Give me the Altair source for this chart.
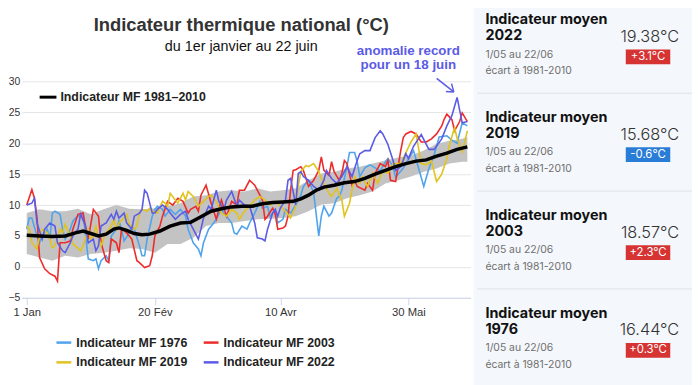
import datetime as dt
import altair as alt
import pandas as pd

# ---------------- data (day index from 1 Jan 2022, temperature °C) ----------------
normal = [(0, 5.1), (5, 5.0), (10, 4.9), (15, 5.0), (19, 5.5), (22, 5.8), (25, 5.4), (28, 5.0),
          (31, 5.3), (34, 6.1), (36, 6.3), (39, 5.9), (42, 5.4), (45, 5.2), (48, 5.3), (52, 5.8),
          (56, 6.6), (60, 7.1), (64, 7.2), (68, 8.1), (72, 9.0), (76, 9.4), (80, 9.7), (84, 9.8),
          (88, 9.8), (92, 10.2), (96, 10.4), (100, 10.5), (104, 10.6), (107, 11.0), (110, 11.6),
          (113, 12.4), (116, 12.9), (120, 13.2), (124, 13.6), (128, 13.8), (132, 14.3), (136, 15.0),
          (140, 15.6), (144, 16.2), (148, 16.7), (152, 17.1), (156, 17.3), (160, 17.9), (164, 18.4),
          (168, 19.0), (172, 19.4)]

band_days = [0, 5, 10, 15, 20, 25, 30, 35, 40, 45, 50, 55, 60, 65, 70, 75, 80, 85, 90, 95, 100,
             105, 110, 115, 120, 125, 130, 135, 140, 145, 150, 155, 160, 165, 170, 172]
band_hi = [8.7, 9.3, 9.0, 9.0, 9.4, 8.5, 9.3, 10.0, 9.4, 9.3, 9.5, 9.8, 10.3, 11.4, 11.6, 12.2,
           12.4, 12.2, 12.7, 12.2, 12.4, 12.7, 14.0, 15.1, 15.4, 15.9, 16.2, 16.7, 17.2, 17.7,
           18.0, 18.8, 19.9, 20.4, 20.7, 21.0]
band_lo = [2.1, 1.5, 1.0, 1.8, 1.5, 2.1, 2.3, 2.6, 3.0, 2.9, 2.3, 3.7, 3.7, 4.7, 6.6, 7.1, 7.1,
           7.4, 7.7, 7.8, 7.9, 8.2, 9.0, 10.1, 10.3, 11.1, 11.6, 12.2, 13.5, 14.0, 14.6, 15.4,
           15.9, 16.7, 17.0, 17.0]

y1976 = [(0, 6.1), (1, 7.9), (2, 7.9), (4, 5.0), (5, 3.9), (6, 5.0), (8, 6.1), (9, 4.5), (10, 8.7),
         (11, 9.0), (13, 8.5), (14, 6.1), (15, 4.5), (17, 6.1), (18, 7.4), (19, 7.9), (20, 8.2),
         (22, 8.5), (23, 5.0), (24, 1.3), (26, 1.0), (27, 1.3), (28, -0.3), (29, 1.0), (31, 1.8),
         (32, 1.0), (33, 5.0), (35, 6.1), (36, 7.4), (37, 6.1), (38, 4.2), (40, 5.5), (41, 6.6),
         (42, 6.1), (44, 3.4), (45, 1.8), (46, 1.8), (47, 4.5), (49, 8.2), (50, 9.3), (51, 9.8),
         (53, 9.3), (54, 8.2), (56, 9.3), (58, 8.5), (60, 9.3), (62, 8.2), (63, 6.1), (65, 3.9),
         (67, 2.9), (68, 1.8), (69, 3.9), (71, 6.1), (73, 7.1), (74, 7.7), (76, 9.3), (77, 8.7),
         (78, 8.2), (80, 7.1), (81, 5.5), (82, 5.3), (84, 6.6), (86, 6.1), (87, 7.1), (89, 8.7),
         (91, 10.6), (92, 9.5), (94, 9.8), (95, 8.2), (97, 9.3), (98, 7.1), (100, 7.7), (101, 9.3),
         (103, 8.7), (105, 10.0), (107, 11.6), (108, 13.0), (110, 14.0), (112, 12.0), (114, 5.0),
         (115, 8.2), (116, 9.8), (118, 8.2), (119, 8.7), (121, 11.1), (122, 11.4), (123, 12.4),
         (125, 16.2), (126, 18.5), (128, 18.5), (129, 17.0), (130, 14.6), (132, 16.0), (134, 16.5),
         (136, 16.0), (138, 15.5), (140, 17.0), (141, 17.5), (143, 16.2), (144, 14.5), (147, 16.0),
         (151, 18.8), (153, 15.9), (155, 13.0), (157, 15.9), (159, 18.1), (161, 21.0), (164, 21.2),
         (166, 20.5), (168, 20.0), (170, 23.3), (172, 22.8)]

y2003 = [(0, 10.0), (2, 12.5), (3, 11.1), (4, 8.0), (5, 1.5), (7, -0.3), (9, -1.1), (11, -1.5),
         (12, -2.3), (13, 3.9), (15, 3.9), (17, 4.2), (18, 6.1), (20, 8.5), (22, 8.7), (23, 6.3),
         (24, 4.5), (26, 9.3), (28, 8.2), (29, 3.9), (31, 1.0), (32, 0.7), (33, 4.5), (35, 3.9),
         (36, 2.3), (37, 6.1), (39, 5.5), (41, 4.5), (43, 1.0), (44, 0.7), (46, -0.1), (48, 0.2),
         (49, 1.8), (50, 5.0), (52, 6.6), (53, 8.2), (55, 10.6), (57, 10.0), (59, 11.1), (61, 10.6),
         (63, 8.7), (64, 9.3), (66, 9.8), (67, 9.0), (68, 11.6), (70, 13.2), (72, 10.3), (74, 7.7),
         (75, 9.3), (76, 10.8), (78, 8.2), (80, 10.6), (82, 10.0), (83, 12.4), (85, 12.4), (87, 14.0),
         (89, 13.2), (90, 12.4), (92, 10.8), (93, 7.7), (94, 8.2), (96, 9.5), (97, 8.5), (98, 6.1),
         (100, 6.3), (101, 6.6), (102, 8.2), (103, 12.4), (104, 15.6), (105, 15.7), (107, 16.2),
         (108, 15.6), (110, 13.0), (112, 14.0), (114, 15.6), (115, 17.8), (116, 15.6), (118, 14.8),
         (119, 17.0), (120, 15.4), (122, 14.0), (123, 15.1), (124, 17.2), (125, 16.7), (127, 13.2),
         (128, 14.0), (129, 13.0), (132, 12.4), (133, 13.5), (135, 12.4), (136, 15.1), (138, 16.7),
         (140, 16.2), (141, 17.2), (142, 14.0), (144, 13.8), (146, 18.8), (147, 20.9), (148, 21.5),
         (150, 21.9), (152, 21.5), (154, 20.2), (156, 20.2), (158, 20.7), (160, 21.5), (162, 22.8),
         (163, 23.9), (164, 24.7), (166, 23.8), (167, 22.0), (169, 23.5), (170, 24.9), (172, 23.5)]

y2019 = [(0, 6.6), (1, 6.1), (2, 3.9), (4, 2.9), (5, 5.0), (6, 6.1), (8, 5.5), (9, 4.5), (10, 3.1),
         (11, 3.4), (13, 6.1), (14, 5.5), (15, 6.9), (17, 5.0), (18, 3.7), (19, 3.4), (21, 2.6),
         (22, 3.4), (24, 6.1), (25, 4.5), (26, 5.0), (27, 6.6), (29, 3.4), (30, 4.5), (31, 5.5),
         (33, 6.6), (34, 7.7), (35, 6.1), (36, 7.1), (38, 7.9), (39, 8.5), (40, 6.9), (42, 6.1),
         (43, 6.6), (44, 8.7), (45, 9.3), (47, 9.0), (48, 9.5), (49, 9.0), (51, 8.7), (53, 10.6),
         (54, 10.3), (55, 9.8), (56, 11.9), (58, 10.8), (59, 10.3), (61, 11.9), (62, 10.8),
         (63, 12.2), (65, 11.4), (67, 9.8), (69, 10.6), (71, 11.4), (72, 11.6), (74, 10.6), (76, 8.7),
         (78, 8.2), (80, 9.3), (82, 8.7), (83, 7.7), (85, 9.0), (87, 9.8), (89, 10.8), (91, 11.4),
         (93, 10.8), (95, 10.0), (97, 10.6), (99, 9.8), (101, 9.0), (103, 7.9), (105, 9.8),
         (106, 13.0), (107, 15.4), (109, 16.4), (110, 16.2), (112, 16.7), (114, 15.4), (115, 14.3),
         (116, 13.5), (118, 11.9), (119, 11.4), (121, 12.7), (123, 10.8), (124, 8.2), (126, 10.3),
         (128, 14.6), (130, 13.5), (131, 14.6), (133, 13.0), (135, 15.1), (137, 13.5), (139, 15.6),
         (141, 15.1), (143, 16.7), (146, 16.7), (150, 20.2), (152, 21.5), (154, 16.7), (156, 16.5),
         (158, 17.1), (160, 13.8), (162, 15.0), (164, 17.5), (165, 19.7), (167, 22.5), (168, 20.8),
         (170, 18.6), (172, 22.0)]

y2022 = [(0, 10.0), (2, 10.3), (3, 11.1), (4, 7.1), (6, 4.5), (7, 6.1), (9, 7.1), (11, 6.6),
         (12, 3.9), (14, 2.6), (15, 2.3), (17, 3.9), (18, 5.0), (20, 6.1), (21, 8.5), (23, 6.6),
         (24, 3.9), (26, 4.5), (27, 2.6), (28, 3.4), (29, 6.6), (31, 7.1), (33, 8.5), (34, 7.7),
         (35, 9.0), (36, 7.9), (38, 8.7), (39, 7.1), (41, 6.1), (42, 8.2), (44, 8.7), (45, 9.3),
         (46, 12.4), (47, 11.9), (49, 8.7), (50, 8.7), (51, 9.3), (53, 10.0), (55, 9.3), (56, 8.7),
         (58, 7.7), (60, 8.5), (62, 9.0), (63, 7.7), (65, 6.1), (67, 4.5), (68, 6.1), (69, 7.9),
         (71, 9.8), (72, 9.3), (74, 12.4), (75, 10.6), (77, 9.3), (78, 10.8), (80, 12.2), (82, 9.8),
         (83, 10.8), (85, 10.0), (87, 9.8), (89, 7.1), (90, 4.7), (92, 4.5), (93, 4.2), (94, 6.1),
         (96, 8.7), (97, 9.3), (98, 8.2), (99, 9.5), (101, 10.8), (102, 14.0), (103, 14.3),
         (105, 10.0), (106, 15.1), (107, 15.4), (108, 14.6), (110, 14.0), (112, 13.0), (114, 12.4),
         (116, 14.0), (117, 15.6), (119, 14.3), (121, 13.5), (123, 14.6), (125, 16.2), (127, 14.6),
         (129, 17.2), (130, 18.3), (132, 18.8), (134, 18.8), (136, 20.9), (138, 22.0), (139, 21.5),
         (141, 19.8), (143, 17.2), (144, 15.6), (146, 16.2), (148, 18.3), (149, 17.5), (151, 19.5),
         (154, 21.4), (157, 19.0), (159, 19.0), (162, 20.7), (164, 22.8), (166, 24.5), (168, 27.4),
         (170, 23.3), (172, 23.5)]

series_names = ["Indicateur MF 1976", "Indicateur MF 2003", "Indicateur MF 2019", "Indicateur MF 2022"]
series_colors = ["#4fa3ec", "#ee2b2b", "#e2c21c", "#5b5be6"]
series_data = [y1976, y2003, y2019, y2022]
normal_name = "Indicateur MF 1981–2010"

tick_days = [0, 50, 99, 149]
tick_labels = ["1 Jan", "20 Fév", "10 Avr", "30 Mai"]
y_ticks = [-5, 0, 5, 10, 15, 20, 25, 30]

card_years = ["2022", "2019", "2003", "1976"]
card_means = ["19.38°C", "15.68°C", "18.57°C", "16.44°C"]
card_anoms = ["+3.1°C", "-0.6°C", "+2.3°C", "+0.3°C"]
card_period = "1/05 au 22/06"
card_ref = "écart à 1981-2010"

# ---------------- helpers ----------------
BASE = dt.datetime(2022, 1, 1)


def iso(d):
    return (BASE + dt.timedelta(days=d)).strftime("%Y-%m-%dT%H:%M:%S")


def frame(pairs):
    return pd.DataFrame({"date": [iso(d) for d, _ in pairs], "value": [v for _, v in pairs]})


PL, PT = 14, 72          # plot origin inside the svg
W, H = 454, 219
xscale = alt.Scale(domain=[alt.DateTime(year=2021, month=12, date=30, hours=2),
                           alt.DateTime(year=2022, month=6, date=23, hours=6, minutes=30)])
yscale = alt.Scale(domain=[-5, 30], nice=False, zero=False)

label_map = "{" + ",".join(f"'{iso(d)[:10]}':'{t}'" for d, t in zip(tick_days, tick_labels)) + "}"
X = alt.X("date:T", scale=xscale, title=None,
          axis=alt.Axis(values=[alt.DateTime(year=2022, month=(BASE + dt.timedelta(days=d)).month,
                                             date=(BASE + dt.timedelta(days=d)).day) for d in tick_days],
                        labelExpr=label_map + "[timeFormat(datum.value, '%Y-%m-%d')]",
                        grid=False, domainColor="#ccd6eb", tickColor="#ccd6eb", tickSize=7,
                        labelPadding=2, labelFont="Liberation Sans", labelFontSize=11.4,
                        labelColor="#333333", labelAngle=0))
Y = alt.Y("value:Q", scale=yscale, title=None,
          axis=alt.Axis(values=y_ticks, domain=False, ticks=False, labelPadding=2,
                        gridColor="#e6e6e6", labelFont="Liberation Sans", labelFontSize=10.5,
                        labelColor="#333333", format="d"))

dummy = pd.DataFrame({"a": [0]})


def px(page_x):
    return page_x - 8 - PL


def py(page_y):
    return page_y - 8 - PT


def txt(s, x, y, size, color="#333333", weight="normal", align="left", font="Liberation Sans"):
    return alt.Chart(dummy).mark_text(text=s, fontSize=size, color=color, fontWeight=weight,
                                      align=align, baseline="middle", font=font).encode(
        x=alt.value(px(x)), y=alt.value(py(y)))


def rule(x1, y1, x2, y2, color, width):
    return alt.Chart(dummy).mark_rule(color=color, strokeWidth=width).encode(
        x=alt.value(px(x1)), y=alt.value(py(y1)), x2=alt.value(px(x2)), y2=alt.value(py(y2)))


def rect(x1, y1, x2, y2, color):
    return alt.Chart(dummy).mark_rect(color=color).encode(
        x=alt.value(px(x1)), y=alt.value(py(y1)), x2=alt.value(px(x2)), y2=alt.value(py(y2)))


layers = []
# right information panel background (page coordinates below)
layers.append(rect(479, 0, 705, 390, "#f4f7fb"))

# grey band
band_df = pd.DataFrame({"date": [iso(d) for d in band_days], "value": band_hi, "lo": band_lo})
layers.append(alt.Chart(band_df).mark_area(color="#c3c3c3", opacity=1).encode(
    x=X, y=Y, y2=alt.Y2("lo:Q")))

# yearly series
for name, color, data in zip(series_names, series_colors, series_data):
    layers.append(alt.Chart(frame(data)).mark_line(color=color, strokeWidth=1.6).encode(x=X, y=Y))

# normal
layers.append(alt.Chart(frame(normal)).mark_line(color="#000000", strokeWidth=3.5).encode(x=X, y=Y))

# titles
layers.append(txt("Indicateur thermique national (°C)", 244, 23, 18.6, "#333333", "bold", "center"))
layers.append(txt("du 1er janvier au 22 juin", 244, 45, 14.5, "#111111", "normal", "center"))

# annotation
ann_color = "#5b5be6"
layers.append(txt("anomalie record", 413, 49.5, 13.5, ann_color, "bold", "center"))
layers.append(txt("pour un 18 juin", 413, 64, 13.5, ann_color, "bold", "center"))
layers.append(rule(441.7, 77, 459, 90.7, ann_color, 1.5))
layers.append(rule(459, 90.7, 451, 90.2, ann_color, 1.5))
layers.append(rule(459, 90.7, 456.7, 82.3, ann_color, 1.5))

# legend (top-left)
layers.append(rule(40, 96, 57, 96, "#000000", 3))
layers.append(txt(normal_name, 61, 96, 12.5, "#222222", "bold"))

# legend (bottom)
leg_pos = [(57, 344.3), (206, 344.3), (57, 364.3), (206, 364.3)]
for (lx, ly), name, color in zip(leg_pos, series_names, series_colors):
    layers.append(rule(lx, ly, lx + 15, ly, color, 2.5))
    layers.append(txt(name, lx + 20, ly, 12.5, "#222222", "bold"))

# cards
for i, (yr, mean, anom) in enumerate(zip(card_years, card_means, card_anoms)):
    off = 99 * i
    layers.append(txt("Indicateur moyen", 491, 18 + off, 14.5, "#111111", "bold", font="Inter"))
    layers.append(txt(yr, 491, 34.5 + off, 14.5, "#111111", "bold", font="Inter"))
    layers.append(txt(card_period, 491, 53 + off, 10.5, "#6f6f6f", font="Inter"))
    layers.append(txt(card_ref, 491, 70 + off, 10.5, "#6f6f6f", font="Inter"))
    layers.append(txt(mean, 687, 35 + off, 16.5, "#333333", 300, "right", font="Inter"))
    badge = "#d63333" if anom.startswith("+") else "#2a7dd6"
    layers.append(rect(633, 47.7 + off, 678, 62.7 + off, badge))
    layers.append(txt(anom, 655.5, 55.2 + off, 11.5, "#ffffff", "normal", "center", font="Inter"))
    if i < 3:
        layers.append(rule(483, 92 + off, 705, 92 + off, "#dfe3e8", 1))

chart = alt.layer(*layers).properties(
    width=W, height=H,
    autosize=alt.AutoSizeParams(type="none"),
    padding={"left": PL, "top": PT, "right": 692 - PL - W, "bottom": 377 - PT - H},
).configure_view(stroke=None)

chart.save("out.html", embed_options={"renderer": "svg", "actions": False})
